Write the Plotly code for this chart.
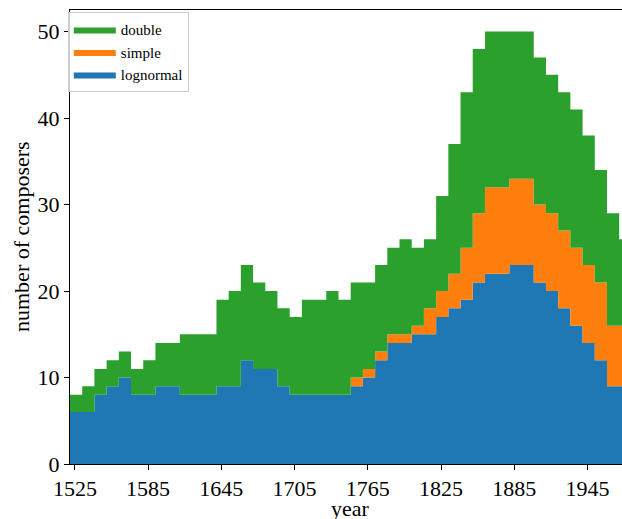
import plotly.graph_objects as go

# bin left edges (10-year bins)
bin_start = 1521
bin_width = 10

lognormal = [6, 6, 8, 9, 10, 8, 8, 9, 9, 8, 8, 8, 9, 9, 12, 11, 11, 9, 8, 8, 8, 8, 8,
             9, 10, 12, 14, 14, 15, 15, 17, 18, 19, 21, 22, 22, 23, 23, 21, 20, 18, 16, 14, 12, 9, 9]
simple = [0] * 23 + [1, 1, 1, 1, 1, 1, 3, 3, 4, 6, 8, 10, 10, 10, 10, 9, 9, 9, 9, 9, 9, 7, 7]
double = [2, 3, 3, 3, 3, 3, 4, 5, 5, 7, 7, 7, 10, 11, 11, 10, 9, 9, 9, 11, 11, 12, 11,
          11, 10, 10, 10, 11, 9, 8, 11, 15, 18, 19, 18, 18, 17, 17, 17, 16, 16, 16, 15, 13, 13, 10]

x_ticks = [1525, 1585, 1645, 1705, 1765, 1825, 1885, 1945]
y_ticks = [0, 10, 20, 30, 40, 50]

n = len(lognormal)
edges = [bin_start + bin_width * k for k in range(n + 1)]

series = [("lognormal", lognormal, "#1f77b4"),
          ("simple", simple, "#ff7f0e"),
          ("double", double, "#2ca02c")]

fig = go.Figure()
for name, vals, col in series:
    fig.add_trace(go.Scatter(
        x=edges, y=vals + [vals[-1]], name=name, stackgroup="one",
        mode="lines", line=dict(width=0, shape="hv", color=col),
        fillcolor=col,
    ))

font_family = "Liberation Serif"
fig.update_layout(
    width=622, height=519,
    margin=dict(l=70, r=0, t=10, b=55, autoexpand=False),
    paper_bgcolor="white", plot_bgcolor="white",
    font=dict(family=font_family, size=22, color="black"),
    showlegend=True,
    legend=dict(x=-0.004, y=0.995, xanchor="left", yanchor="top",
                traceorder="reversed", bordercolor="#cccccc", borderwidth=1,
                bgcolor="rgba(255,255,255,0.8)", itemwidth=42,
                font=dict(family=font_family, size=15, color="black")),
    annotations=[
        dict(text="year", xref="paper", yref="paper", x=0.508, y=0,
             yshift=-44, xanchor="center", yanchor="middle", showarrow=False,
             font=dict(family=font_family, size=22, color="black")),
        dict(text="number of composers", xref="paper", yref="paper", x=0,
             y=0.5, xshift=-49, xanchor="center", yanchor="middle",
             textangle=-90, showarrow=False,
             font=dict(family=font_family, size=22, color="black")),
    ],
)
fig.update_xaxes(
    range=[bin_start, bin_start + 452.3], tickvals=x_ticks,
    ticks="outside", ticklen=5, tickwidth=1, tickcolor="black",
    showline=True, linecolor="black", linewidth=1, mirror=True,
    showgrid=False, zeroline=False, automargin=False,
    tickfont=dict(size=22),
)
fig.update_yaxes(
    range=[0, 52.5], tickvals=y_ticks,
    ticks="outside", ticklen=5, tickwidth=1, tickcolor="black",
    showline=True, linecolor="black", linewidth=1, mirror=False,
    showgrid=False, zeroline=False, automargin=False,
    tickfont=dict(size=22),
)
fig.write_html("out.html", config={"displayModeBar": False},
               post_script="document.body.style.margin='0px';document.body.style.overflow='hidden';")
